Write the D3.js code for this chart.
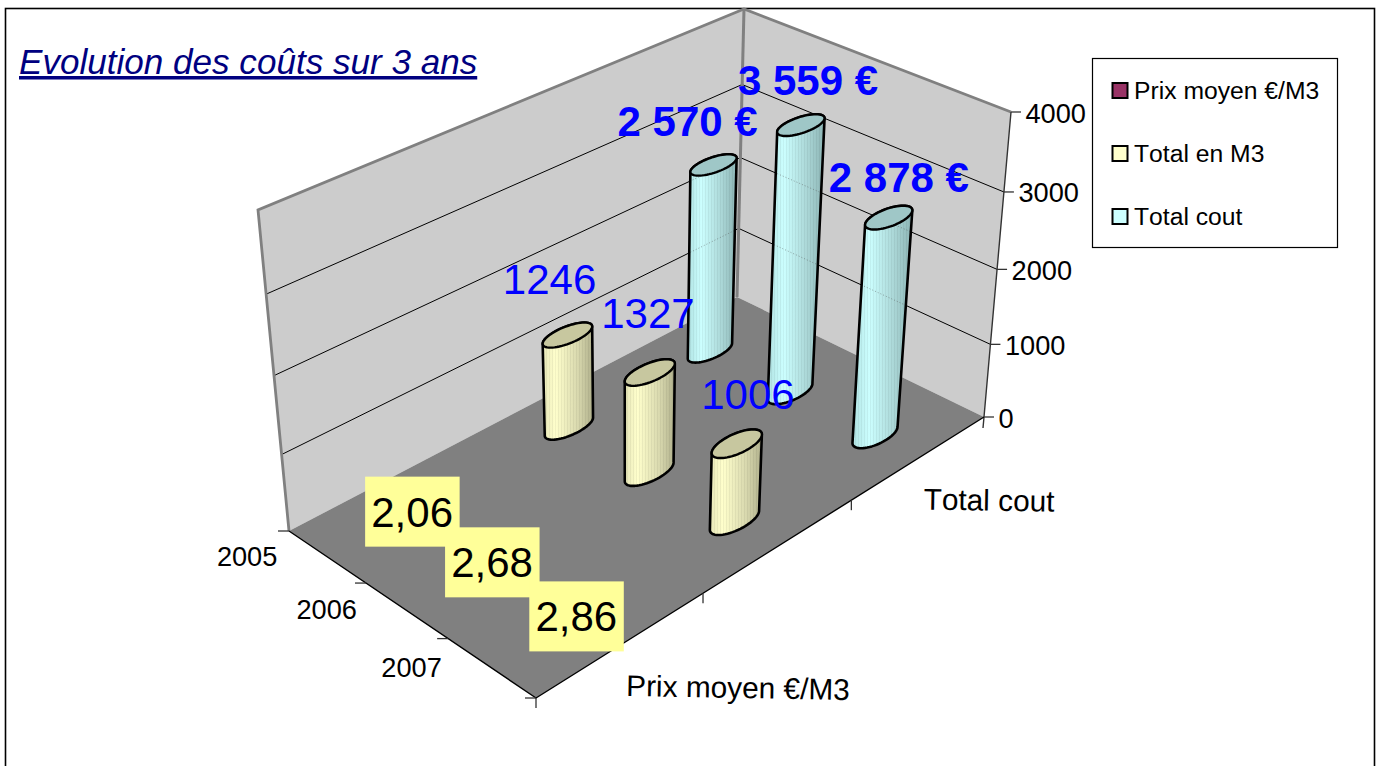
<!DOCTYPE html>
<html lang="fr">
<head>
<meta charset="utf-8">
<title>Evolution des coûts sur 3 ans</title>
<script src="https://cdn.jsdelivr.net/npm/d3@7"></script>
<style>
  html, body { margin: 0; background: #fff; overflow: hidden; }
  svg { display: block; }
  text { font-family: "Liberation Sans", Arial, sans-serif; font-kerning: none; }
</style>
</head>
<body>
<div id="chart"></div>
<script>
// ============ data ============
const chartTitle = 'Evolution des coûts sur 3 ans';
const years = ['2005', '2006', '2007'];
const seriesNames = ['Prix moyen €/M3', 'Total en M3', 'Total cout'];
const prixMoyen = [2.06, 2.68, 2.86];
const totalM3 = [1246, 1327, 1006];
const totalCout = [2570, 3559, 2878];
const valueTicks = [0, 1000, 2000, 3000, 4000];
const seriesAxisLabels = ['Prix moyen €/M3', 'Total cout'];

// ============ layout ============
const width = 1377;
const height = 766;
const seriesColors = ['#993366', '#ffffcc', '#ccffff'];

// box corners on screen: [year start/series start, year end/series start, year end/series end, year start/series end]
const floorQuad = [[289, 531], [536, 698], [984, 417], [737, 297]];
const topQuad = [[258, 210], [528, 358], [1011, 112], [744, 9]];
const depthBend = 1.066;

// label offsets from the top of each column
const prixNudge = [[0, 1], [0, 1], [-1, 1]];
const m3Nudge = [[-18, -56], [-2, -59], [11, -50]];
const coutNudge = [[-26, -44], [7, -45], [10, -40]];

const svg = d3.select('#chart').append('svg')
  .attr('width', width)
  .attr('height', height);

// ============ scales ============
const yearScale = d3.scaleBand().domain(years).range([0, 1]);
const seriesScale = d3.scaleBand().domain(seriesNames).range([0, 1]);
const valueScale = d3.scaleLinear().domain([0, 4000]).range([0, 1]);

function quadMap([p0, p1, p2, p3]) {
  const dx1 = p1[0] - p2[0], dx2 = p3[0] - p2[0], sx = p0[0] - p1[0] + p2[0] - p3[0];
  const dy1 = p1[1] - p2[1], dy2 = p3[1] - p2[1], sy = p0[1] - p1[1] + p2[1] - p3[1];
  const den = dx1 * dy2 - dx2 * dy1;
  const g = (sx * dy2 - dx2 * sy) / den;
  const h = (dx1 * sy - sx * dy1) / den;
  const a = p1[0] - p0[0] + g * p1[0], b = p3[0] - p0[0] + h * p3[0];
  const d = p1[1] - p0[1] + g * p1[1], e = p3[1] - p0[1] + h * p3[1];
  return (u, v) => {
    const w = g * u + h * v + 1;
    return [(a * u + b * v + p0[0]) / w, (d * u + e * v + p0[1]) / w];
  };
}
const floorAt = quadMap(floorQuad);
const topAt = quadMap(topQuad);

// u = along years, v = along series, value = height
function project(u, v, value) {
  const k = valueScale(value);
  const t = k / (k + (1 - k) * depthBend);
  const f = floorAt(u, v);
  const c = topAt(u, v);
  return [f[0] + (c[0] - f[0]) * t, f[1] + (c[1] - f[1]) * t];
}

const polyline = d3.line();
const closedPath = d3.line().curve(d3.curveLinearClosed);

// ============ frame, walls, floor ============
svg.append('rect')
  .attr('x', 5.5).attr('y', 8.5)
  .attr('width', 1369).attr('height', 800)
  .attr('fill', '#fff').attr('stroke', '#000').attr('stroke-width', 1.6);

svg.append('path')
  .attr('d', closedPath([project(0, 0, 0), project(0, 0, 4000), project(0, 1, 4000), project(0, 1, 0)]))
  .attr('fill', '#cccccc');
svg.append('path')
  .attr('d', closedPath([project(0, 1, 0), project(0, 1, 4000), project(1, 1, 4000), project(1, 1, 0)]))
  .attr('fill', '#cccccc');

const gridG = svg.append('g');
valueTicks.filter(d => d > 0 && d < 4000).forEach(d => {
  gridG.append('path')
    .attr('d', polyline([project(0, 0, d), project(0, 1, d), project(1, 1, d)]))
    .attr('fill', 'none').attr('stroke', '#000').attr('stroke-width', 1);
});

svg.append('path')
  .attr('d', closedPath([project(0, 0, 0), project(1, 0, 0), project(1, 1, 0), project(0, 1, 0)]))
  .attr('fill', '#808080');

// wall edges
svg.append('path')
  .attr('d', polyline([project(0, 0, 0), project(0, 0, 4000), project(0, 1, 4000), project(1, 1, 4000)]))
  .attr('fill', 'none').attr('stroke', '#808080').attr('stroke-width', 2.8);
svg.append('path')
  .attr('d', polyline([project(0, 1, 0), project(0, 1, 4000)]))
  .attr('fill', 'none').attr('stroke', '#808080').attr('stroke-width', 3);
svg.append('path')
  .attr('d', polyline([project(1, 1, 4000), project(1, 1, 0), [983, 428]]))
  .attr('fill', 'none').attr('stroke', '#333').attr('stroke-width', 1.4);
svg.append('path')
  .attr('d', polyline([project(0, 0, 0), project(1, 0, 0), project(1, 1, 0)]))
  .attr('fill', 'none').attr('stroke', '#000').attr('stroke-width', 1.4);

// ============ axes ============
const axisG = svg.append('g');
valueTicks.forEach(d => {
  const p = project(1, 1, d);
  axisG.append('line')
    .attr('x1', p[0]).attr('x2', p[0] + 10).attr('y1', p[1]).attr('y2', p[1])
    .attr('stroke', '#333').attr('stroke-width', 1.3);
  axisG.append('text')
    .attr('x', p[0] + 14.5).attr('y', p[1] + 10.5)
    .attr('font-size', 27.2).attr('fill', '#000')
    .text(d);
});

const yearEdges = [0, ...years.map(y => yearScale(y) + yearScale.step())];
yearEdges.forEach(u => {
  const p = project(u, 0, 0);
  axisG.append('line')
    .attr('x1', p[0] - 11).attr('x2', p[0]).attr('y1', p[1]).attr('y2', p[1])
    .attr('stroke', '#333').attr('stroke-width', 1.3);
});
years.forEach(y => {
  const p = project(yearScale(y) + yearScale.bandwidth() / 2, 0, 0);
  axisG.append('text')
    .attr('x', p[0] - 110).attr('y', p[1] + 9)
    .attr('font-size', 27.2).attr('fill', '#000')
    .text(y);
});

const seriesEdges = [0, ...seriesNames.map(s => seriesScale(s) + seriesScale.step())].slice(0, 3);
seriesEdges.forEach(v => {
  const p = project(1, v, 0);
  axisG.append('line')
    .attr('x1', p[0]).attr('x2', p[0]).attr('y1', p[1]).attr('y2', p[1] + 10)
    .attr('stroke', '#333').attr('stroke-width', 1.3);
});
seriesAxisLabels.forEach(s => {
  const p = project(1, seriesScale(s) + seriesScale.bandwidth() / 2, 0);
  axisG.append('text')
    .attr('x', p[0] + 4).attr('y', p[1] + 52)
    .attr('font-size', 29.8).attr('fill', '#000')
    .attr('transform', `rotate(1 ${p[0] + 4} ${p[1] + 52})`)
    .text(s);
});

// ============ columns ============
const defs = svg.append('defs');
const gradientStops = [
  [[0, '#e6e6b8'], [0.25, '#ffffcc'], [0.7, '#d8d8ae'], [1, '#b0b08c']],
  [[0, '#b0e2e2'], [0.28, '#ccffff'], [0.7, '#aad6d6'], [1, '#8cb4b4']]
];
gradientStops.forEach((stops, i) => {
  const g = defs.append('linearGradient').attr('id', `shade${i}`);
  stops.forEach(([o, c]) => g.append('stop').attr('offset', o).attr('stop-color', c));
});
const stripes = defs.append('pattern')
  .attr('id', 'stripes').attr('patternUnits', 'userSpaceOnUse')
  .attr('width', 3).attr('height', 8);
stripes.append('rect').attr('width', 1).attr('height', 8).attr('fill', '#000').attr('opacity', 0.05);

const radiusU = 0.04;
const radiusV = 0.05;
const thetas = d3.range(0, 360, 6).map(d => d * Math.PI / 180);

function ellipseAt(u, v, value) {
  return thetas.map(t => project(u + radiusU * Math.cos(t), v + radiusV * Math.sin(t), value));
}

// outline: upper half of the top ellipse, lower half of the base
function bodyOutline(base, top) {
  const side = pts => [d3.minIndex(pts, p => p[0]), d3.maxIndex(pts, p => p[0])];
  const walk = (pts, from, to) => {
    const out = [];
    for (let i = from; ; i = (i + 1) % pts.length) {
      out.push(pts[i]);
      if (i === to) break;
    }
    return out;
  };
  const [tL, tR] = side(top);
  const [bL, bR] = side(base);
  let upper = walk(top, tL, tR);
  const upperAlt = walk(top, tR, tL).reverse();
  if (d3.mean(upperAlt, p => p[1]) < d3.mean(upper, p => p[1])) upper = upperAlt;
  let lower = walk(base, bR, bL);
  const lowerAlt = walk(base, bL, bR).reverse();
  if (d3.mean(lowerAlt, p => p[1]) > d3.mean(lower, p => p[1])) lower = lowerAlt;
  return upper.concat(lower);
}

const columnData = [];
[[totalCout, 2, 1], [totalM3, 1, 0], [prixMoyen, 0, 0]].forEach(([values, s, shade]) => {
  years.forEach((y, i) => {
    columnData.push({
      u: yearScale(y) + yearScale.bandwidth() / 2,
      v: seriesScale(seriesNames[s]) + seriesScale.bandwidth() / 2,
      value: values[i], s, shade
    });
  });
});

const columns = svg.append('g').selectAll('g')
  .data(columnData)
  .join('g');

columns.each(function (d, i) {
  const g = d3.select(this);
  const base = ellipseAt(d.u, d.v, 0);
  const top = ellipseAt(d.u, d.v, d.value);
  const outline = closedPath(bodyOutline(base, top));
  const isPrice = d.s === 0;

  g.append('path').attr('d', outline)
    .attr('fill', isPrice ? seriesColors[0] : `url(#shade${d.shade})`);
  g.append('path').attr('d', outline).attr('fill', 'url(#stripes)');

  // faint grid lines showing through the tall columns
  if (d.s === 2) {
    defs.append('clipPath').attr('id', `col${i}`).append('path').attr('d', outline);
    const ghost = g.append('g').attr('clip-path', `url(#col${i})`);
    valueTicks.filter(t => t > 0 && t < 4000).forEach(t => {
      ghost.append('path')
        .attr('d', polyline([project(0, 0, t), project(0, 1, t), project(1, 1, t)]))
        .attr('fill', 'none').attr('stroke', '#555')
        .attr('stroke-dasharray', '1 2').attr('opacity', 0.5);
    });
  }

  g.append('path').attr('d', outline)
    .attr('fill', 'none').attr('stroke', '#000')
    .attr('stroke-width', 2.6).attr('stroke-linejoin', 'round');
  g.append('path').attr('d', closedPath(top))
    .attr('fill', isPrice ? '#7a2952' : d3.color(seriesColors[d.s]).darker(0.7))
    .attr('stroke', '#000').attr('stroke-width', 2.4);
});

// ============ labels ============
const labelG = svg.append('g');

function topCenter(s, i, value) {
  return project(yearScale(years[i]) + yearScale.bandwidth() / 2,
    seriesScale(seriesNames[s]) + seriesScale.bandwidth() / 2, value);
}

const frenchEuro = d => d3.format(',')(d).replace(',', ' ') + ' €';
const frenchDecimal = d => d3.format('.2f')(d).replace('.', ',');

totalCout.forEach((d, i) => {
  const p = topCenter(2, i, d);
  labelG.append('text')
    .attr('x', p[0] + coutNudge[i][0]).attr('y', p[1] + coutNudge[i][1] + 15)
    .attr('text-anchor', 'middle')
    .attr('font-size', 42).attr('font-weight', 'bold').attr('fill', '#0000ff')
    .text(frenchEuro(d));
});
totalM3.forEach((d, i) => {
  const p = topCenter(1, i, d);
  labelG.append('text')
    .attr('x', p[0] + m3Nudge[i][0]).attr('y', p[1] + m3Nudge[i][1] + 15)
    .attr('text-anchor', 'middle')
    .attr('font-size', 42).attr('fill', '#0000ff')
    .text(d);
});
prixMoyen.forEach((d, i) => {
  const p = topCenter(0, i, d);
  const cx = p[0] + prixNudge[i][0];
  const cy = p[1] + prixNudge[i][1];
  labelG.append('rect')
    .attr('x', cx - 47).attr('y', cy - 35)
    .attr('width', 94.5).attr('height', 70)
    .attr('fill', '#ffff99');
  labelG.append('text')
    .attr('x', cx).attr('y', cy + 15)
    .attr('text-anchor', 'middle')
    .attr('font-size', 42).attr('fill', '#000')
    .text(frenchDecimal(d));
});

// ============ title ============
svg.append('text')
  .attr('x', 19).attr('y', 74)
  .attr('font-size', 35.1).attr('font-style', 'italic')
  .attr('text-decoration', 'underline').attr('fill', '#000080')
  .text(chartTitle);

// ============ legend ============
const legend = svg.append('g');
legend.append('rect')
  .attr('x', 1092.5).attr('y', 58.5).attr('width', 245).attr('height', 189)
  .attr('fill', '#fff').attr('stroke', '#000').attr('stroke-width', 1.2);
seriesNames.forEach((s, i) => {
  const y = 90.5 + i * 63;
  legend.append('rect')
    .attr('x', 1112.5).attr('y', y - 7.5).attr('width', 15).attr('height', 15)
    .attr('fill', seriesColors[i]).attr('stroke', '#000').attr('stroke-width', 2);
  legend.append('text')
    .attr('x', 1134).attr('y', y + 8.5)
    .attr('font-size', 24.7).attr('fill', '#000')
    .text(s);
});
</script>
</body>
</html>
